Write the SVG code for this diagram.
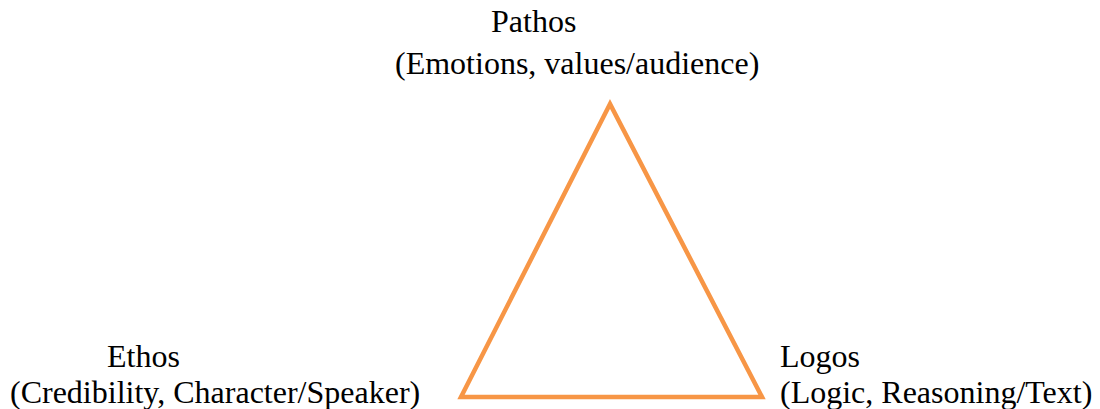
<svg xmlns="http://www.w3.org/2000/svg" width="1100" height="409" viewBox="0 0 1100 409">
<style>
text{font-family:"Liberation Serif","Times New Roman",serif;font-size:32px;fill:#000}
.tri{fill:none;stroke:#F79646;stroke-width:4.5;stroke-linejoin:miter}
</style>
<rect width="1100" height="409" fill="#fff"/>
<g id="connectors">
<polygon class="tri" points="610,104 461,397 762,397"/>
</g>
<g id="pathos">
<text x="491" y="32">Pathos</text>
<text x="395" y="74">(Emotions, values/audience)</text>
</g>
<g id="ethos">
<text x="107" y="367">Ethos</text>
<text x="10" y="403">(Credibility, Character/Speaker)</text>
</g>
<g id="logos">
<text x="780" y="367">Logos</text>
<text x="780" y="403">(Logic, Reasoning/Text)</text>
</g>
</svg>
